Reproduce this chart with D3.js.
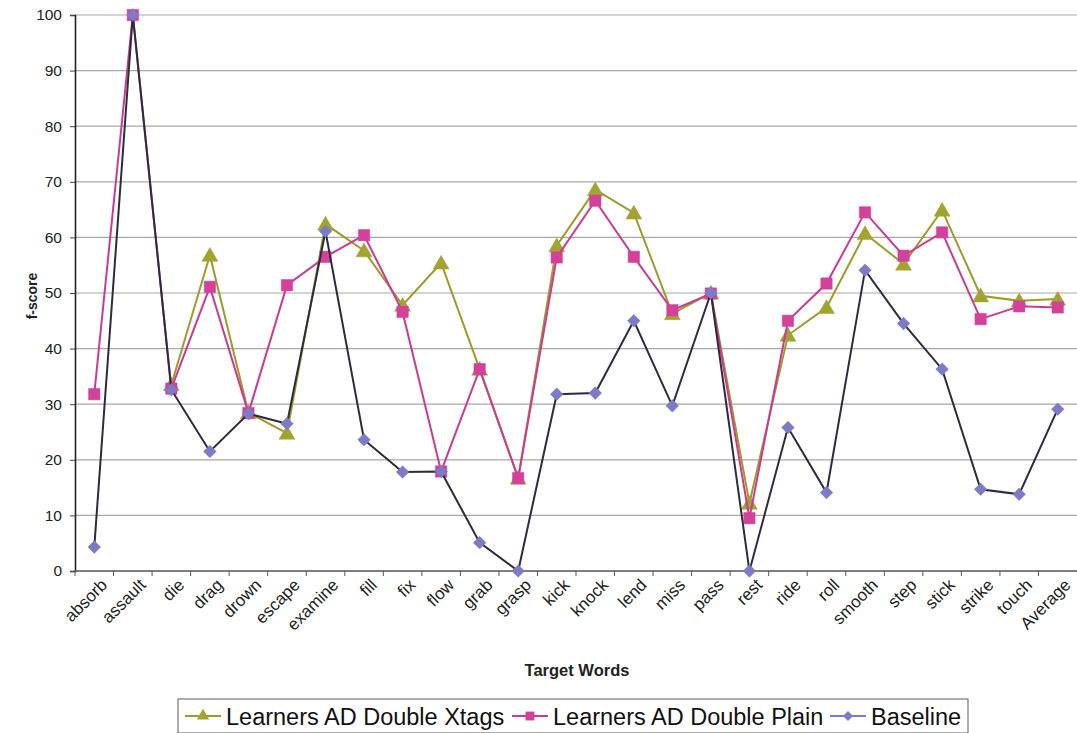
<!DOCTYPE html>
<html>
<head>
<meta charset="utf-8">
<script src="https://cdn.jsdelivr.net/npm/d3@7/dist/d3.min.js"></script>
<style>
  html, body { margin: 0; padding: 0; background: #fff; }
  svg { display: block; font-family: "Liberation Sans", Arial, sans-serif; }
</style>
</head>
<body>
<svg id="chart" width="1077" height="733"></svg>
<script>
// Target words on the category axis
const categories = ["absorb","assault","die","drag","drown","escape","examine","fill","fix","flow",
  "grab","grasp","kick","knock","lend","miss","pass","rest","ride","roll","smooth","step","stick",
  "strike","touch","Average"];

// f-scores per series (null = no value reported)
const xtagsValues = [null, null, 33.5, 56.8, 28.5, 24.8, 62.4, 57.6, 47.8, 55.4,
  36.3, 16.7, 58.5, 68.6, 64.4, 46.3, 50.0, 12.2, 42.4, 47.4, 60.7, 55.2, 64.9,
  49.5, 48.6, 48.9];
const plainValues = [31.8, 100, 32.8, 51.1, 28.4, 51.4, 56.5, 60.4, 46.6, 17.9,
  36.3, 16.7, 56.4, 66.6, 56.5, 46.9, 49.9, 9.5, 45.0, 51.7, 64.5, 56.7, 60.9,
  45.3, 47.6, 47.4];
const baselineValues = [4.3, 100, 32.6, 21.5, 28.3, 26.5, 61.1, 23.6, 17.8, 17.9,
  5.1, 0, 31.8, 32.0, 45.0, 29.7, 50.0, 0, 25.8, 14.1, 54.1, 44.5, 36.3,
  14.7, 13.8, 29.1];

const seriesNames = ["Learners AD Double Xtags", "Learners AD Double Plain", "Baseline"];
const yTicks = [0, 10, 20, 30, 40, 50, 60, 70, 80, 90, 100];

// square turned 45 degrees, as a d3 symbol type
const symbolRhombus = {
  draw(ctx, size) {
    const r = Math.sqrt(size / 2);
    ctx.moveTo(0, -r); ctx.lineTo(r, 0); ctx.lineTo(0, r); ctx.lineTo(-r, 0); ctx.closePath();
  }
};

const series = [
  { name: seriesNames[0], values: xtagsValues, line: "#9c9c2c", fill: "#a3a332", key: "#9c9c2c",
    type: d3.symbolTriangle, size: 110, dy: 1.5 },
  { name: seriesNames[1], values: plainValues, line: "#cc3a92", fill: "#d2429a", key: "#cc3a92",
    type: d3.symbolSquare, size: 130, dy: 0 },
  { name: seriesNames[2], values: baselineValues, line: "#2c2c3c", fill: "#7d7ac6", key: "#7d7ac6",
    type: symbolRhombus, size: 80, dy: 0 }
];

const svg = d3.select("#chart");
const plot = { left: 75, right: 1077, top: 15, bottom: 571 };

const x = d3.scaleBand().domain(categories).range([plot.left, plot.right]).padding(0);
const y = d3.scaleLinear().domain([0, 100]).range([plot.bottom, plot.top]);
const cx = d => x(d) + x.bandwidth() / 2;

// horizontal gridlines
svg.append("g")
  .selectAll("line").data(yTicks.filter(t => t > 0)).join("line")
  .attr("x1", plot.left).attr("x2", plot.right)
  .attr("y1", d => y(d)).attr("y2", d => y(d))
  .attr("stroke", "#a8a8a8").attr("stroke-width", 1.2);

// y axis
const yAxis = svg.append("g")
  .attr("transform", `translate(${plot.left},0)`)
  .call(d3.axisLeft(y).tickValues(yTicks).tickSize(5).tickPadding(8).tickFormat(d3.format("d")));
yAxis.select(".domain").attr("stroke", "#222").attr("stroke-width", 1.6);
yAxis.selectAll(".tick line").attr("stroke", "#444");
yAxis.selectAll("text").attr("font-size", 15.5).attr("fill", "#222")
  .attr("font-family", "'Liberation Sans', Arial, sans-serif");

// x axis with ticks on category boundaries
const xAxisG = svg.append("g").attr("transform", `translate(0,${plot.bottom})`);
xAxisG.append("line").attr("x1", plot.left).attr("x2", plot.right)
  .attr("y1", 0).attr("y2", 0).attr("stroke", "#555").attr("stroke-width", 1.4);
xAxisG.selectAll("line.tk").data(categories).join("line").attr("class", "tk")
  .attr("x1", d => x(d)).attr("x2", d => x(d)).attr("y1", 0).attr("y2", 5)
  .attr("stroke", "#555");
xAxisG.selectAll("text").data(categories).join("text")
  .attr("transform", d => `translate(${cx(d) + 14},${15}) rotate(-45)`)
  .attr("text-anchor", "end")
  .attr("font-size", 17).attr("fill", "#222")
  .text(d => d);

// axis titles
svg.append("text").attr("x", 577).attr("y", 676).attr("text-anchor", "middle")
  .attr("font-size", 16.5).attr("font-weight", "bold").attr("fill", "#222").text("Target Words");
svg.append("text").attr("transform", "translate(37,296) rotate(-90)").attr("text-anchor", "middle")
  .attr("font-size", 14).attr("font-weight", "bold").attr("fill", "#222").text("f-score");

const line = d3.line()
  .defined(d => d.v !== null)
  .x(d => cx(d.c)).y(d => y(d.v));

series.forEach(s => {
  const pts = categories.map((c, i) => ({ c, v: s.values[i] }));
  svg.append("path").datum(pts)
    .attr("fill", "none").attr("stroke", s.line).attr("stroke-width", 2)
    .attr("d", line);
  svg.append("g").selectAll("path").data(pts.filter(p => p.v !== null)).join("path")
    .attr("transform", p => `translate(${cx(p.c)},${y(p.v) + s.dy})`)
    .attr("d", d3.symbol().type(s.type).size(s.size)())
    .attr("fill", s.fill).attr("stroke", s.fill).attr("stroke-width", 0.5);
});

// legend
const legend = svg.append("g");
legend.append("rect").attr("x", 178).attr("y", 699).attr("width", 790).attr("height", 34)
  .attr("fill", "#fff").attr("stroke", "#777").attr("stroke-width", 1.2);
const legendX = [185, 512, 830];
series.forEach((s, i) => {
  const g = legend.append("g").attr("transform", `translate(${legendX[i]},716)`);
  g.append("line").attr("x1", 0).attr("x2", 36).attr("y1", 0).attr("y2", 0)
    .attr("stroke", s.key).attr("stroke-width", 2);
  g.append("path").attr("transform", "translate(18,0)")
    .attr("d", d3.symbol().type(s.type).size(s.size * 0.6)())
    .attr("fill", s.fill);
  g.append("text").attr("x", 41).attr("y", 8.5).attr("font-size", 23.5).attr("fill", "#111")
    .text(s.name);
});
</script>
</body>
</html>
